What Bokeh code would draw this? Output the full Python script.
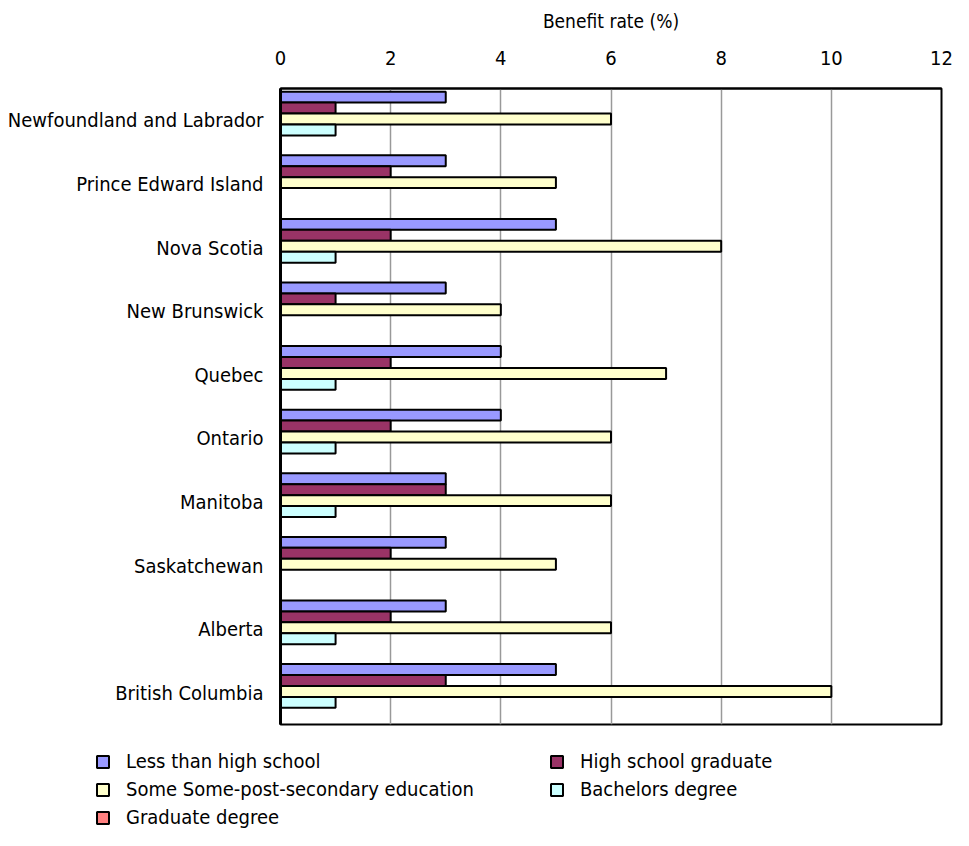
from bokeh.plotting import figure
from bokeh.models import ColumnDataSource, Range1d, FactorRange, Legend, LegendItem
from bokeh.transform import dodge
from bokeh.embed import file_html
from bokeh.resources import INLINE

provinces = ["Newfoundland and Labrador", "Prince Edward Island", "Nova Scotia",
             "New Brunswick", "Quebec", "Ontario", "Manitoba", "Saskatchewan",
             "Alberta", "British Columbia"]
less_than_hs = [3, 3, 5, 3, 4, 4, 3, 3, 3, 5]
hs_graduate = [1, 2, 2, 1, 2, 2, 3, 2, 2, 3]
some_post_sec = [6, 5, 8, 4, 7, 6, 6, 5, 6, 10]
bachelors = [1, 0, 1, 0, 1, 1, 1, 0, 1, 1]
graduate = [0, 0, 0, 0, 0, 0, 0, 0, 0, 0]
series_names = ["Less than high school", "High school graduate",
                "Some Some-post-secondary education", "Bachelors degree",
                "Graduate degree"]
x_ticks = [0, 2, 4, 6, 8, 10, 12]

colors = ["#9999FF", "#993366", "#FFFFCC", "#CCFFFF", "#FF8080"]
FONT = "DejaVu Sans Condensed"
keys = ["s0", "s1", "s2", "s3", "s4"]

src = ColumnDataSource(dict(prov=provinces, s0=less_than_hs, s1=hs_graduate,
                            s2=some_post_sec, s3=bachelors, s4=graduate))

p = figure(width=953, height=736, output_backend="svg", toolbar_location=None,
           x_range=Range1d(0, 12), y_range=FactorRange(*provinces[::-1], range_padding=0),
           x_axis_location="above", min_border_left=280, min_border_right=12,
           min_border_top=88, min_border_bottom=12)

bar_h = 0.172
offsets = [0.344, 0.172, 0.0, -0.172, -0.344]
for i, key in enumerate(keys):
    p.hbar(y=dodge("prov", offsets[i] + 0.02, range=p.y_range), left=0, right=key,
           height=bar_h, source=src, fill_color=colors[i], line_color="black",
           line_width=2)

p.xaxis.ticker = x_ticks
p.xaxis.axis_label = "Benefit rate (%)"
p.xaxis.axis_label_text_font = FONT
p.xaxis.axis_label_text_font_style = "normal"
p.xaxis.axis_label_text_font_size = "19px"
p.xaxis.axis_label_text_color = "black"
p.xaxis.axis_label_standoff = 16
p.xaxis.major_label_text_font = FONT
p.xaxis.major_label_text_font_size = "20px"
p.xaxis.major_label_text_color = "black"
p.xaxis.major_label_standoff = 24
p.xaxis.major_tick_line_color = None
p.xaxis.major_tick_out = 0
p.xaxis.major_tick_in = 0
p.xaxis.minor_tick_line_color = None
p.xaxis.axis_line_color = "black"
p.xaxis.axis_line_width = 2

p.yaxis.major_label_text_font = FONT
p.yaxis.major_label_text_font_size = "20px"
p.yaxis.major_label_text_color = "black"
p.yaxis.major_label_standoff = 17
p.yaxis.major_tick_line_color = None
p.yaxis.major_tick_out = 0
p.yaxis.major_tick_in = 0
p.yaxis.minor_tick_line_color = None
p.yaxis.axis_line_color = "black"
p.yaxis.axis_line_width = 3

p.xgrid.grid_line_color = "#999999"
p.xgrid.grid_line_width = 1.5
p.ygrid.grid_line_color = None
p.outline_line_color = "black"
p.outline_line_width = 2
p.background_fill_color = "white"

# legend panel: its y range holds no province, so its bars map nowhere; only the legend shows
p2 = figure(width=953, height=94, output_backend="svg", toolbar_location=None,
            x_axis_location=None, y_axis_location=None, min_border=0,
            x_range=Range1d(0, 12), y_range=FactorRange("legend"))
p2.grid.visible = False
p2.outline_line_color = None
leg_r = []
for i, key in enumerate(keys):
    r = p2.hbar(y="prov", right=key, left=0, height=bar_h, source=src,
                fill_color=colors[i], line_color="black", line_width=2)
    leg_r.append(r)

def make_legend(idx, loc):
    return Legend(items=[LegendItem(label=series_names[i], renderers=[leg_r[i]]) for i in idx],
                  location=loc, orientation="vertical", border_line_color=None,
                  background_fill_alpha=0, glyph_width=15, glyph_height=15,
                  label_text_font=FONT, label_text_font_size="20px",
                  label_text_color="black", label_height=22,
                  label_standoff=16, spacing=4, padding=0, margin=0)

p2.add_layout(make_legend([0, 2, 4], (95, 1)))
p2.add_layout(make_legend([1, 3], (549, 29)))

open("out.html", "w").write(file_html([p, p2], INLINE))
